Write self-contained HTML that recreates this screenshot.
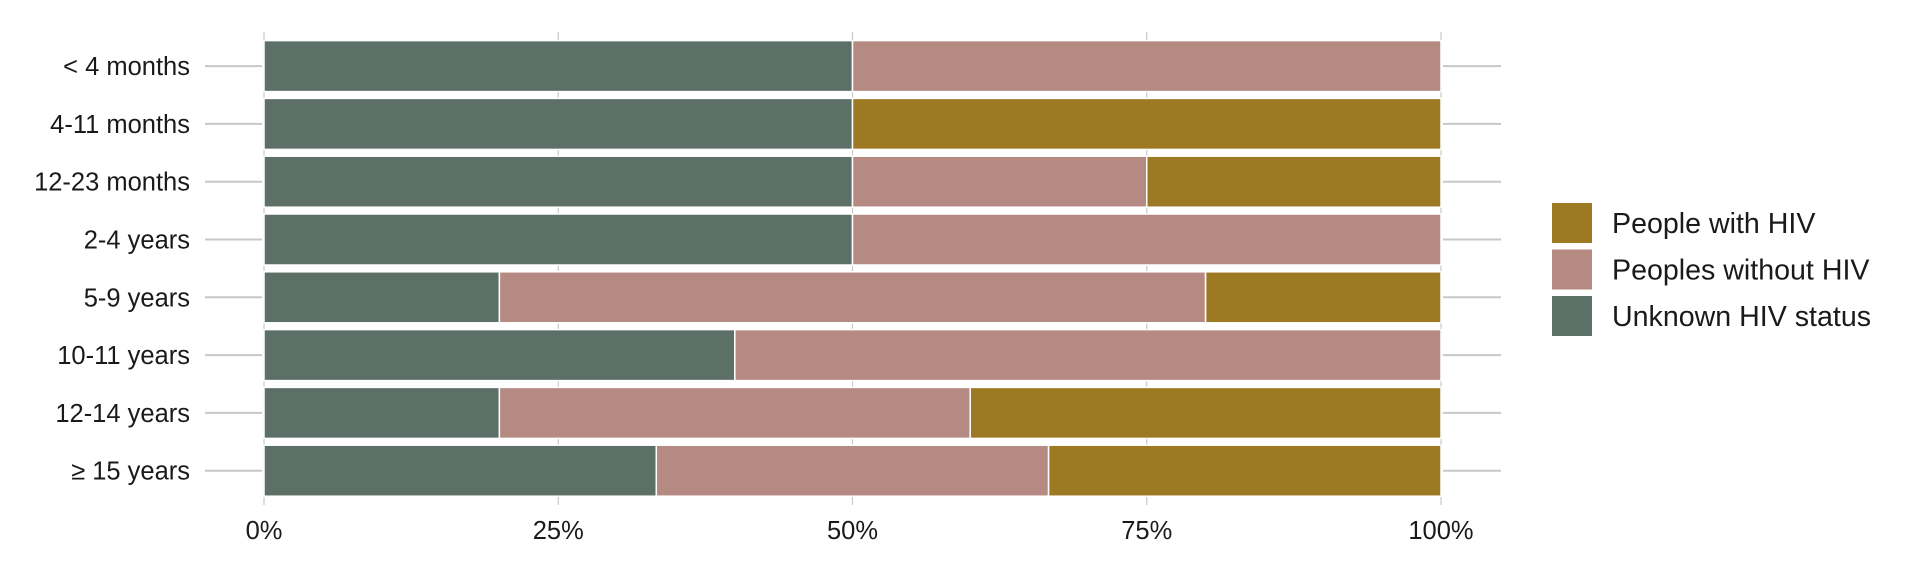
<!DOCTYPE html>
<html><head><meta charset="utf-8"><style>
html,body{margin:0;padding:0;background:#fff;}
svg{display:block;font-family:"Liberation Sans",sans-serif;}
</style></head><body>
<svg id="chart" width="1920" height="576">
<g id="grid"></g>
<g id="bars"></g>
<g id="yaxis"></g>
<g id="xaxis"></g>
<g id="legend"></g>
</svg>
<script>
const categories = ["< 4 months","4-11 months","12-23 months","2-4 years","5-9 years","10-11 years","12-14 years","≥ 15 years"];
const unknownVals = [50,50,50,50,20,40,20,33.33];
const withoutVals = [50,0,25,50,60,60,40,33.33];
const withVals = [0,50,25,0,20,0,40,33.34];
const xTicks = [0,25,50,75,100];
const xTickLabels = ["0%","25%","50%","75%","100%"];
const seriesNames = ["People with HIV","Peoples without HIV","Unknown HIV status"];

const NS="http://www.w3.org/2000/svg";
const colors={unknown:"#5c7068",without:"#b58a82",with:"#9e7923"};
const x0=264,x1=1441,yTop=66.1,pitch=57.8,barH=51;
const xs=v=>x0+(x1-x0)*v/100;
const ys=i=>yTop+i*pitch;
function mk(tag,attrs,parent){const e=document.createElementNS(NS,tag);for(const k in attrs)e.setAttribute(k,attrs[k]);parent.appendChild(e);return e;}
const grid=document.getElementById('grid'),bars=document.getElementById('bars'),ya=document.getElementById('yaxis'),xa=document.getElementById('xaxis'),lg=document.getElementById('legend');

xTicks.forEach((t,k)=>{
  const g=mk('line',{x1:xs(t),x2:xs(t),y1:32,y2:505,stroke:"#c8c8c8","stroke-width":1.2},grid);
  
  
  const tx=mk('text',{x:xs(t),y:539,"text-anchor":"middle","font-size":25.5,fill:"#1a1a1a"},xa);
  tx.textContent=xTickLabels[k];
  
  
});

categories.forEach((c,i)=>{
  const cy=ys(i);
  const l1=mk('line',{x1:205,x2:262,y1:cy,y2:cy,stroke:"#c8c8c8","stroke-width":2},ya);
  
  
  const l2=mk('line',{x1:1443,x2:1501,y1:cy,y2:cy,stroke:"#c8c8c8","stroke-width":2},ya);
  
  
  const t=mk('text',{x:190,y:cy+9,"text-anchor":"end","font-size":25.5,fill:"#1a1a1a"},ya);
  t.textContent=c;
  
  
  let acc=0;
  [[unknownVals[i],colors.unknown,'unknown'],[withoutVals[i],colors.without,'without-hiv'],[withVals[i],colors.with,'with-hiv']].forEach(([v,col,nm])=>{
    if(v<=0)return;
    const r=mk('rect',{x:xs(acc),y:cy-barH/2,width:xs(acc+v)-xs(acc),height:barH,fill:col,stroke:"#fff","stroke-width":1.5},bars);
    
    
    acc+=v;
  });
});

const lcols=[colors.with,colors.without,colors.unknown];
seriesNames.forEach((n,k)=>{
  const y=203+k*46.5;
  const r=mk('rect',{x:1552,y:y,width:40,height:40,fill:lcols[k]},lg);
  
  
  const t=mk('text',{x:1612,y:y+30,"font-size":28.6,fill:"#1a1a1a"},lg);
  t.textContent=n;
  
  
});
</script>
</body></html>
